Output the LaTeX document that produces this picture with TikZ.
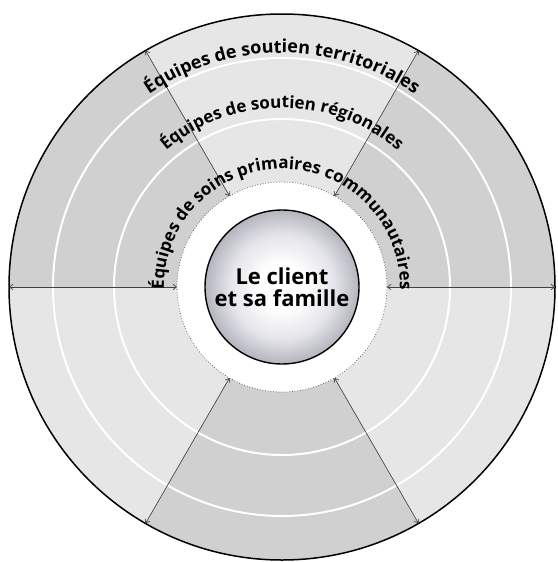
\documentclass[tikz,border=0pt]{standalone}
\usepackage{fontspec}
\setmainfont{Open Sans}
\usetikzlibrary{arrows.meta,decorations.text}
\definecolor{darkg}{RGB}{208,208,208}
\definecolor{lightg}{RGB}{230,230,230}
\definecolor{arrowc}{RGB}{65,65,65}
\definecolor{ballrim}{RGB}{180,180,190}
\definecolor{ballmid}{RGB}{228,228,234}
\pgfdeclareradialshading{ball}{\pgfpoint{0bp}{0bp}}{%
  color(0bp)=(white); color(8bp)=(white!96!ballmid); color(17bp)=(ballmid);
  color(25bp)=(ballrim); color(50bp)=(ballrim)}
\begin{document}
\begin{tikzpicture}[x=1pt,y=1pt,
  radial/.style={draw=arrowc, line width=0.65pt,
    {Straight Barb[length=3.5pt,width=5.5pt]}-{Straight Barb[length=3.5pt,width=5.5pt]}},
  ring/.style={draw=white, line width=2pt},
  curvedlabel/.style 2 args={decorate, decoration={text along path, text align=center,
    text={|\bfseries\fontsize{#1}{#1}\selectfont|#2}}}]
\useasboundingbox (0,0) rectangle (557,-562);
\coordinate (C) at (282,-287);
\def\R{273}
% sectors
\fill[lightg] (C) circle (\R);
\foreach \a in {0,120,240}
  \fill[darkg] (C) -- ++(\a:\R) arc (\a:\a+60:\R) -- cycle;
\fill[white] (C) circle (105);
% rings
\draw[ring] (C) circle (168);
\draw[ring] (C) circle (229);
\draw[arrowc, dotted, line width=0.7pt] (C) circle (105);
\draw[black, line width=1.5pt] (C) circle (\R);
% radial arrows
\foreach \a in {0,60,...,300} {
  \path (C) ++(\a:\R) coordinate (o\a);
  \path (C) ++(\a:105) coordinate (i\a);
  \draw[radial] (o\a) -- (i\a);
}
% centre
\node[circle, draw=black, line width=1.4pt, minimum size=154pt, inner sep=0pt,
  shade, shading=ball, align=center,
  font=\bfseries\fontsize{22}{22}\selectfont] (client) at (C) {Le client\\et sa famille};
% curved labels
\path[curvedlabel={18}{Équipes de soutien territoriales}] (C) ++(190:234) arc (190:-10:234);
\path[curvedlabel={17}{Équipes de soutien régionales}] (C) ++(190:179) arc (190:-10:179);
\path[curvedlabel={17}{Équipes de soins primaires communautaires}] (C) ++(210:118) arc (210:-30:118);
\end{tikzpicture}
\end{document}
